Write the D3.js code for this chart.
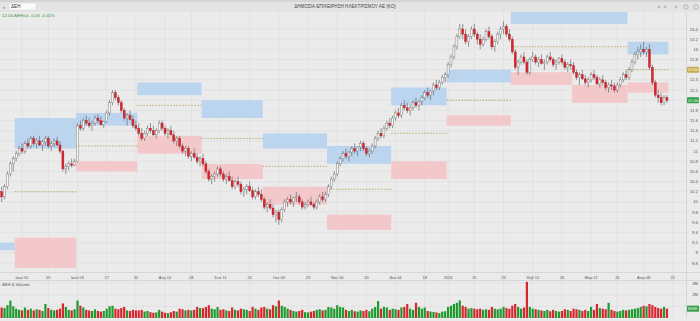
<!DOCTYPE html>
<html>
<head>
<meta charset="utf-8">
<script src="https://cdn.jsdelivr.net/npm/d3@7"></script>
<style>
  body { margin: 0; background: #e9e9e9; overflow: hidden; }
  svg { display: block; font-family: "Liberation Sans", Arial, sans-serif; }
</style>
</head>
<body>
<div id="chart"></div>
<script>
// ---- data: daily [open, high, low, close, volume(k)] per month ----
const may23 = [[10.05,10.25,9.95,10.2,1300],[10.2,10.3,10.0,10.1,900],[10.1,10.35,10.05,10.3,850],[10.3,10.6,10.25,10.55,1100],[10.55,10.8,10.5,10.75,1500],[10.75,10.9,10.6,10.85,1000]];
const jun23 = [[10.85,11.0,10.8,10.95,800],[10.95,11.1,10.9,11.05,700],[11.05,11.15,10.95,11.0,650],[11.0,11.2,10.95,11.15,900],[11.15,11.25,11.05,11.1,700],[11.1,11.3,11.05,11.25,800],[11.25,11.3,11.1,11.15,650],[11.15,11.25,11.05,11.2,750],[11.2,11.3,11.1,11.12,700],[11.12,11.22,11.0,11.18,600],[11.18,11.3,11.1,11.25,1200],[11.25,11.3,11.05,11.1,850],[11.1,11.2,11.0,11.15,700],[11.15,11.25,11.08,11.2,650],[11.2,11.28,11.1,11.12,700],[11.12,11.2,10.95,11.0,800],[11.0,11.02,10.6,10.65,1250],[10.65,10.75,10.55,10.7,950],[10.7,10.8,10.62,10.75,700],[10.75,10.85,10.68,10.72,650],[10.72,10.85,10.7,10.8,750]];
const jul23 = [[10.8,11.55,10.8,11.5,1500],[11.5,11.6,11.4,11.45,1050],[11.45,11.65,11.4,11.6,900],[11.6,11.7,11.5,11.55,700],[11.55,11.65,11.45,11.5,650],[11.5,11.6,11.4,11.55,600],[11.55,11.7,11.5,11.65,750],[11.65,11.72,11.55,11.6,600],[11.6,11.68,11.5,11.52,550],[11.52,11.6,11.45,11.58,600],[11.58,11.8,11.55,11.75,800],[11.75,12.0,11.7,11.95,1000],[11.95,12.2,11.9,12.15,1050],[12.15,12.2,12.0,12.05,800],[12.05,12.1,11.9,11.95,750],[11.95,12.0,11.75,11.8,850],[11.8,11.85,11.6,11.65,950],[11.65,11.75,11.5,11.7,650],[11.7,11.8,11.6,11.62,600],[11.62,11.7,11.45,11.5,700],[11.5,11.6,11.4,11.45,650]];
const aug23 = [[11.45,11.55,11.3,11.35,650],[11.35,11.45,11.2,11.25,700],[11.25,11.4,11.2,11.35,550],[11.35,11.5,11.3,11.45,600],[11.45,11.55,11.35,11.4,500],[11.4,11.5,11.3,11.32,450],[11.32,11.45,11.25,11.4,480],[11.4,11.6,11.35,11.55,700],[11.55,11.6,11.4,11.45,550],[11.45,11.5,11.3,11.35,450],[11.35,11.45,11.25,11.4,420],[11.4,11.5,11.3,11.32,500],[11.32,11.4,11.15,11.2,600],[11.2,11.3,11.1,11.25,550],[11.25,11.3,11.05,11.1,800],[11.1,11.15,10.95,11.0,750],[11.0,11.1,10.9,11.05,650],[11.05,11.1,10.85,10.9,700],[10.9,11.0,10.8,10.95,650],[10.95,11.05,10.85,10.88,700],[10.88,10.95,10.75,10.8,950],[10.8,10.9,10.7,10.85,850]];
const sep23 = [[10.85,10.95,10.7,10.75,850],[10.75,10.8,10.55,10.6,950],[10.6,10.65,10.4,10.45,1100],[10.45,10.55,10.35,10.5,800],[10.5,10.6,10.4,10.55,750],[10.55,10.7,10.5,10.65,950],[10.65,10.7,10.5,10.55,700],[10.55,10.6,10.4,10.45,750],[10.45,10.55,10.35,10.5,650],[10.5,10.6,10.4,10.42,600],[10.42,10.5,10.25,10.3,900],[10.3,10.45,10.25,10.4,700],[10.4,10.5,10.3,10.35,650],[10.35,10.4,10.15,10.2,800],[10.2,10.3,10.1,10.25,750],[10.25,10.35,10.15,10.3,700],[10.3,10.4,10.2,10.22,600],[10.22,10.3,10.05,10.1,950],[10.1,10.25,10.05,10.2,800],[10.2,10.3,10.1,10.15,700],[10.15,10.25,10.0,10.05,900]];
const oct23 = [[10.05,10.1,9.85,9.9,950],[9.9,10.0,9.8,9.95,800],[9.95,10.05,9.85,9.88,750],[9.88,9.95,9.7,9.75,1100],[9.75,9.85,9.6,9.8,1000],[9.8,9.85,9.55,9.65,1500],[9.65,9.9,9.6,9.85,1050],[9.85,10.05,9.8,10.0,950],[10.0,10.1,9.9,10.05,800],[10.05,10.15,9.95,10.0,700],[10.0,10.1,9.9,10.08,600],[10.08,10.2,10.0,10.1,550],[10.1,10.15,9.95,10.0,600],[10.0,10.05,9.85,9.9,700],[9.9,10.0,9.85,9.95,500],[9.95,10.05,9.9,10.0,480],[10.0,10.1,9.92,9.95,550],[9.95,10.0,9.85,9.9,600],[9.9,10.05,9.85,10.0,700],[10.0,10.15,9.95,10.1,750],[10.1,10.2,10.0,10.05,650],[10.05,10.2,10.0,10.15,700]];
const nov23 = [[10.15,10.35,10.1,10.3,950],[10.3,10.5,10.25,10.45,900],[10.45,10.6,10.4,10.55,800],[10.55,10.8,10.5,10.75,1100],[10.75,10.9,10.7,10.85,950],[10.85,11.0,10.8,10.95,900],[10.95,11.05,10.85,10.9,700],[10.9,11.0,10.8,10.98,600],[10.98,11.1,10.9,11.05,700],[11.05,11.15,10.95,11.0,580],[11.0,11.1,10.9,11.08,550],[11.08,11.2,11.0,11.15,650],[11.15,11.2,11.0,11.05,600],[11.05,11.1,10.9,10.95,700],[10.95,11.05,10.88,11.0,580],[11.0,11.15,10.95,11.1,800],[11.1,11.3,11.05,11.25,950],[11.25,11.4,11.2,11.35,1450],[11.35,11.45,11.25,11.3,800],[11.3,11.5,11.25,11.45,950],[11.45,11.6,11.4,11.55,900],[11.55,11.65,11.45,11.5,700]];
const dec23 = [[11.5,11.7,11.45,11.65,800],[11.65,11.8,11.6,11.75,750],[11.75,11.85,11.65,11.7,700],[11.7,11.95,11.65,11.9,900],[11.9,12.0,11.8,11.85,950],[11.85,11.95,11.75,11.8,1200],[11.8,11.9,11.7,11.85,800],[11.85,12.0,11.8,11.95,700],[11.95,12.05,11.85,11.9,1300],[11.9,12.0,11.8,11.98,950],[11.98,12.1,11.9,12.05,800],[12.05,12.2,12.0,12.15,900],[12.15,12.25,12.05,12.1,600],[12.1,12.2,12.0,12.18,550],[12.18,12.35,12.1,12.3,520],[12.3,12.4,12.2,12.25,480],[12.25,12.4,12.2,12.35,420],[12.35,12.5,12.3,12.45,550],[12.45,12.55,12.35,12.5,580]];
const jan24 = [[12.5,12.75,12.45,12.7,950],[12.7,12.9,12.65,12.85,1050],[12.85,13.1,12.8,13.05,1200],[13.05,13.3,13.0,13.25,1300],[13.25,13.5,13.2,13.4,1500],[13.4,13.5,13.2,13.3,1050],[13.3,13.4,13.1,13.15,950],[13.15,13.3,13.05,13.25,800],[13.25,13.45,13.2,13.4,850],[13.4,13.5,13.25,13.3,800],[13.3,13.35,13.1,13.2,750],[13.2,13.3,13.0,13.1,800],[13.1,13.25,13.05,13.2,700],[13.2,13.4,13.15,13.35,750],[13.35,13.45,13.2,13.25,700],[13.25,13.3,13.0,13.05,950],[13.05,13.2,12.95,13.15,800],[13.15,13.35,13.1,13.3,750],[13.3,13.45,13.2,13.4,800],[13.4,13.55,13.3,13.45,950],[13.45,13.5,13.25,13.3,850],[13.3,13.4,13.15,13.2,800]];
const feb24 = [[13.2,13.25,12.9,12.95,1050],[12.95,13.0,12.6,12.65,1200],[12.65,12.8,12.5,12.75,950],[12.75,12.9,12.7,12.85,800],[12.85,12.95,12.7,12.75,900],[12.75,12.8,12.5,12.55,3100],[12.55,12.85,12.5,12.8,950],[12.8,12.95,12.75,12.85,800],[12.85,12.9,12.7,12.75,750],[12.75,12.85,12.65,12.8,700],[12.8,12.9,12.7,12.72,650],[12.72,12.8,12.6,12.75,600],[12.75,12.9,12.7,12.85,700],[12.85,12.95,12.75,12.8,580],[12.8,12.85,12.65,12.7,700],[12.7,12.8,12.6,12.75,600],[12.75,12.85,12.7,12.82,550],[12.82,12.9,12.7,12.75,600],[12.75,12.8,12.6,12.65,750],[12.65,12.75,12.55,12.7,700],[12.7,12.8,12.6,12.68,600]];
const mar24 = [[12.68,12.75,12.5,12.55,800],[12.55,12.6,12.4,12.45,750],[12.45,12.55,12.3,12.5,700],[12.5,12.6,12.4,12.42,600],[12.42,12.5,12.3,12.35,700],[12.35,12.45,12.25,12.4,600],[12.4,12.55,12.35,12.5,950],[12.5,12.6,12.4,12.45,700],[12.45,12.5,12.3,12.32,1200],[12.32,12.45,12.25,12.4,850],[12.4,12.5,12.3,12.35,800],[12.35,12.4,12.2,12.25,750],[12.25,12.35,12.15,12.3,1300],[12.3,12.4,12.2,12.28,700],[12.28,12.35,12.15,12.2,600],[12.2,12.35,12.15,12.3,550],[12.3,12.45,12.25,12.4,600],[12.4,12.55,12.35,12.5,700],[12.5,12.6,12.4,12.45,650]];
const apr24 = [[12.45,12.65,12.4,12.6,700],[12.6,12.8,12.55,12.75,750],[12.75,12.95,12.7,12.9,800],[12.9,13.05,12.8,12.95,850],[12.95,13.1,12.85,13.0,950],[13.0,13.15,12.9,12.95,1050],[12.95,13.05,12.85,13.0,1000],[13.0,13.1,12.6,12.65,1200],[12.65,12.7,12.3,12.35,1100],[12.35,12.4,12.05,12.1,950],[12.1,12.2,11.95,12.05,850],[12.05,12.15,11.9,11.95,800],[11.95,12.1,11.9,12.05,950],[12.05,12.1,11.95,12.0,800]];
const months = [may23, jun23, jul23, aug23, sep23, oct23, nov23, dec23, jan24, feb24, mar24, apr24];

// monthly zones: [blueTop, blueBottom, pinkTop, pinkBottom, midLine]
const zones = [
  [9.2, 9.05, null, null, null],
  [11.65, 11.05, 9.3, 8.7, 10.2],
  [11.75, 11.5, 10.8, 10.6, 11.1],
  [12.35, 12.1, 11.3, 10.95, 11.9],
  [12.0, 11.65, 10.75, 10.45, 11.25],
  [11.35, 11.05, 10.3, 9.95, 10.7],
  [11.1, 10.75, 9.75, 9.45, 10.25],
  [12.25, 11.9, 10.8, 10.45, 11.35],
  [12.6, 12.35, 11.7, 11.5, 12.0],
  [13.75, 13.5, 12.55, 12.3, 13.05],
  [13.75, 13.5, 12.3, 11.95, 13.05],
  [13.15, 12.9, 12.35, 12.15, 12.6]
];

const holidays = ["2023-06-05","2023-08-15","2023-12-25","2023-12-26","2024-01-01","2024-03-18","2024-03-25"];
const priceTicks = d3.range(8.8, 13.41, 0.2).map(v => +v.toFixed(1));
const dateTicks = [["2023-06-06","Ιουν 05"],["2023-06-19","19"],["2023-07-03","Ιουλ 03"],["2023-07-17","17"],["2023-07-31","31"],["2023-08-14","Αυγ 14"],["2023-08-28","28"],["2023-09-11","Σεπ 11"],["2023-09-25","25"],["2023-10-09","Οκτ 09"],["2023-10-23","23"],["2023-11-06","Νοε 06"],["2023-11-20","20"],["2023-12-04","Δεκ 04"],["2023-12-18","18"],["2024-01-02","2024"],["2024-01-15","15"],["2024-01-29","29"],["2024-02-12","Φεβ 12"],["2024-02-26","26"],["2024-03-11","Μαρ 11"],["2024-03-26","25"],["2024-04-08","Απρ 08"],["2024-04-22","22"]];
const volTicks = [[1000, "1M"], [2000, "2M"], [3000, "3M"]];

const W = 700, H = 321;
const PANE_TOP = 12, PANE_BOTTOM = 272, PANE_RIGHT = 686;
const VOL_TOP = 281, VOL_BOTTOM = 318;
const UP_FILL = "#f4f4f4", UP_STROKE = "#6a6a6a", DOWN_FILL = "#d8262f";
const GREEN_VOL = "#1f9a2e", RED_VOL = "#d8262f";

// trading days
const fmt = d3.timeFormat("%Y-%m-%d");
const days = d3.timeDay.range(new Date(2023, 4, 24), new Date(2024, 3, 23))
  .filter(d => d.getDay() !== 0 && d.getDay() !== 6 && !holidays.includes(fmt(d)))
  .map(fmt);

const rows = months.flat().map((r, i) => ({ date: days[i], o: r[0], h: r[1], l: r[2], c: r[3], v: r[4] }));
// month boundaries by index
const monthStarts = [];
let acc = 0;
months.forEach(m => { monthStarts.push([acc, acc + m.length - 1]); acc += m.length; });

const x = d3.scalePoint().domain(days).range([-1.3, 672.8]);
const step = x.step();
const y = d3.scaleLinear().domain([8.8, 13.4]).range([263, 29]);
const yv = d3.scaleLinear().domain([0, 3000]).range([VOL_BOTTOM, 283]);

const svg = d3.select("#chart").append("svg").attr("width", W).attr("height", H);

// backgrounds
svg.append("rect").attr("width", W).attr("height", H).attr("fill", "#ebebeb");
svg.append("rect").attr("width", W).attr("height", 12).attr("fill", "#e4e4e4");
svg.append("rect").attr("width", W).attr("height", 2).attr("fill", "#d4d4d4");

const clip = svg.append("clipPath").attr("id", "pane").append("rect")
  .attr("x", 0).attr("y", PANE_TOP).attr("width", PANE_RIGHT).attr("height", PANE_BOTTOM - PANE_TOP);

// grid
const grid = svg.append("g").attr("stroke", "#dcdcdc").attr("stroke-width", 0.6);
grid.selectAll("line.h").data(priceTicks).join("line")
  .attr("x1", 0).attr("x2", PANE_RIGHT).attr("y1", d => y(d)).attr("y2", d => y(d));
grid.selectAll("line.v").data(dateTicks).join("line")
  .attr("x1", d => x(d[0])).attr("x2", d => x(d[0])).attr("y1", PANE_TOP).attr("y2", VOL_BOTTOM);
grid.selectAll("line.vv").data(volTicks).join("line")
  .attr("x1", 0).attr("x2", PANE_RIGHT).attr("y1", d => yv(d[0])).attr("y2", d => yv(d[0]));

// zones
const zg = svg.append("g").attr("clip-path", "url(#pane)");
zones.forEach((z, i) => {
  const [a, b] = monthStarts[i];
  const x0 = x(days[a]) - step / 2, x1 = x(days[b]) + step / 2;
  if (z[0] != null) zg.append("rect").attr("x", x0).attr("width", x1 - x0)
    .attr("y", y(z[0])).attr("height", y(z[1]) - y(z[0])).attr("fill", "#bcd5ef");
  if (z[2] != null) zg.append("rect").attr("x", x0).attr("width", x1 - x0)
    .attr("y", y(z[2])).attr("height", y(z[3]) - y(z[2])).attr("fill", "#f3c8ca");
  if (z[4] != null) zg.append("line").attr("x1", x0).attr("x2", x1)
    .attr("y1", y(z[4])).attr("y2", y(z[4]))
    .attr("stroke", "#b09a4a").attr("stroke-width", 0.8).attr("stroke-dasharray", "1.5,1.5");
});

// candles
const bw = 2;
const cg = svg.append("g").attr("clip-path", "url(#pane)");
cg.selectAll("line").data(rows).join("line")
  .attr("x1", d => x(d.date)).attr("x2", d => x(d.date))
  .attr("y1", d => y(d.h)).attr("y2", d => y(d.l))
  .attr("stroke", "#555").attr("stroke-width", 0.6);
cg.selectAll("rect").data(rows).join("rect")
  .attr("x", d => x(d.date) - bw / 2).attr("width", bw)
  .attr("y", d => y(Math.max(d.o, d.c)))
  .attr("height", d => Math.max(0.6, Math.abs(y(d.o) - y(d.c))))
  .attr("fill", d => d.c >= d.o ? UP_FILL : DOWN_FILL)
  .attr("stroke", d => d.c >= d.o ? UP_STROKE : "#b01820")
  .attr("stroke-width", 0.4);

// volume
svg.append("g").selectAll("rect").data(rows).join("rect")
  .attr("x", d => x(d.date) - 1.1).attr("width", 2.2)
  .attr("y", d => yv(d.v)).attr("height", d => yv(0) - yv(d.v))
  .attr("fill", d => d.c >= d.o ? GREEN_VOL : RED_VOL);

// separators
svg.append("line").attr("x1", 0).attr("x2", W).attr("y1", PANE_BOTTOM + 0.5).attr("y2", PANE_BOTTOM + 0.5).attr("stroke", "#d6d6d6");
svg.append("line").attr("x1", 0).attr("x2", W).attr("y1", VOL_TOP - 0.5).attr("y2", VOL_TOP - 0.5).attr("stroke", "#d6d6d6");
svg.append("line").attr("x1", PANE_RIGHT + 0.5).attr("x2", PANE_RIGHT + 0.5).attr("y1", PANE_TOP).attr("y2", VOL_BOTTOM).attr("stroke", "#d6d6d6");

// price axis labels (skip the ones hidden under markers)
const lastClose = rows[rows.length - 1].c;
const midLast = zones[zones.length - 1][4];
svg.append("g").selectAll("text")
  .data(priceTicks.filter(t => Math.abs(y(t) - y(lastClose)) > 5 && Math.abs(y(t) - y(midLast)) > 5))
  .join("text")
  .attr("x", 698).attr("y", d => y(d) + 1.5).attr("text-anchor", "end")
  .attr("font-size", 4.3).attr("fill", "#555").text(d => d3.format("")(d));

// markers on price axis
function marker(val, fill, txt) {
  const g = svg.append("g");
  g.append("rect").attr("x", 687).attr("y", y(val) - 3).attr("width", 12).attr("height", 6).attr("rx", 1).attr("fill", fill);
  g.append("text").attr("x", 693).attr("y", y(val) + 1.6).attr("text-anchor", "middle")
    .attr("font-size", 4.2).attr("fill", "#fff").text(txt);
}
marker(midLast, "#c9a94a", midLast.toFixed(2));
marker(lastClose, "#2f9e44", lastClose.toFixed(2));

// date labels
svg.append("g").selectAll("text").data(dateTicks).join("text")
  .attr("x", d => x(d[0])).attr("y", 278.5).attr("text-anchor", "middle")
  .attr("font-size", 4).attr("fill", "#555").text(d => d[1]);

// volume axis
svg.append("g").selectAll("text").data(volTicks.slice(1)).join("text")
  .attr("x", 698).attr("y", d => yv(d[0]) + 1.5).attr("text-anchor", "end")
  .attr("font-size", 4.2).attr("fill", "#555").text(d => d[1]);
const lastVol = rows[rows.length - 1].v;
svg.append("rect").attr("x", 687).attr("y", yv(lastVol) - 3).attr("width", 12).attr("height", 6).attr("fill", "#2f9e44");
svg.append("text").attr("x", 693).attr("y", yv(lastVol) + 1.6).attr("text-anchor", "middle")
  .attr("font-size", 4.2).attr("fill", "#fff").text(lastVol + "K");
svg.append("text").attr("x", 2).attr("y", 285.5).attr("font-size", 4.2).attr("fill", "#555").text("ΔΕΗ & Volume");

// toolbar
svg.append("text").attr("x", 3).attr("y", 8.5).attr("font-size", 6).attr("fill", "#555").text("‹");
svg.append("rect").attr("x", 9).attr("y", 3).attr("width", 27).attr("height", 7).attr("fill", "#fafafa").attr("stroke", "#cfcfcf").attr("stroke-width", 0.4);
svg.append("text").attr("x", 11).attr("y", 8).attr("font-size", 4.6).attr("fill", "#333").text("ΔΕΗ");
svg.append("text").attr("x", 345).attr("y", 8).attr("text-anchor", "middle").attr("font-size", 4.6).attr("fill", "#444")
  .text("ΔΗΜΟΣΙΑ ΕΠΙΧΕΙΡΗΣΗ ΗΛΕΚΤΡΙΣΜΟΥ ΑΕ (ΚΟ)");
[659, 665, 676, 686, 696].forEach((cx, i) => {
  svg.append("circle").attr("cx", cx).attr("cy", 7).attr("r", i > 2 ? 2.2 : 1)
    .attr("fill", "none").attr("stroke", "#888").attr("stroke-width", 0.5);
});

// legend
const prevClose = rows[rows.length - 2].c;
const chg = lastClose - prevClose;
svg.append("text").attr("x", 2).attr("y", 16.5).attr("font-size", 4.4).attr("fill", "#3c8c3c")
  .text(`${lastClose.toFixed(2)} ΔΕΗ/κλ ${chg >= 0 ? "+" : ""}${chg.toFixed(2)} ${(chg / prevClose * 100).toFixed(2)}%`);
</script>
</body>
</html>
